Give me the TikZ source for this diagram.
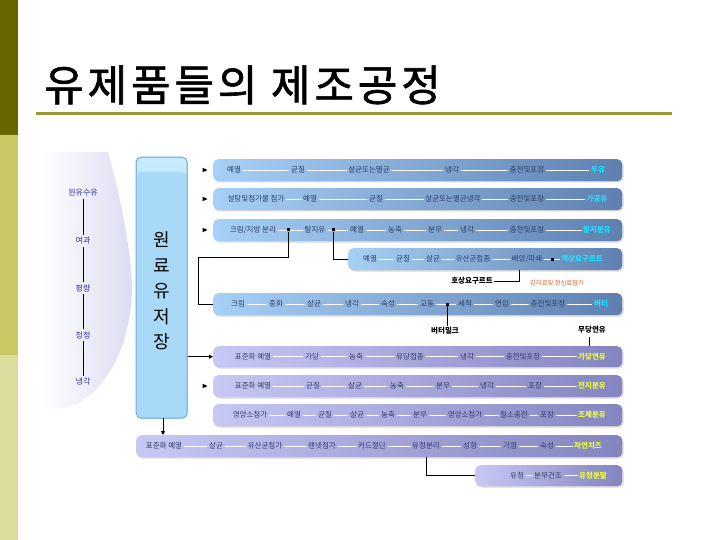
\documentclass[tikz,border=0pt]{standalone}
\usepackage{fontspec}
\setmainfont{Noto Sans CJK KR}
\newfontfamily\titlefont{Noto Sans CJK KR}[FakeBold=1.4, LetterSpace=9]
\usetikzlibrary{arrows.meta,calc}
\definecolor{oliveA}{HTML}{666600}
\definecolor{oliveB}{HTML}{C8C864}
\definecolor{oliveC}{HTML}{DCDC9C}
\definecolor{oliveL}{HTML}{999933}
\definecolor{bL}{HTML}{A6D0F6}
\definecolor{bR}{HTML}{5E80B0}
\definecolor{pL}{HTML}{C8C8F6}
\definecolor{pR}{HTML}{8484C0}
\definecolor{stor}{HTML}{A8DAF8}
\definecolor{storT}{HTML}{C8EAFC}
\definecolor{storB}{HTML}{6AAEDC}
\definecolor{navyT}{HTML}{333399}
\definecolor{txtC}{HTML}{2E3F66}
\definecolor{cyanP}{HTML}{1EE0FF}
\definecolor{yelP}{HTML}{EEFF33}
\definecolor{orng}{HTML}{E0602A}
\definecolor{lav}{HTML}{DCDCF2}
\newcommand\steps[3]{\foreach \xx/\tx [count=\ii] in {#3}{\node[stp] (#1-\ii) at (\xx,#2) {\tx};}}
\newcommand\links[2]{\foreach \ii in {1,...,#2}{\pgfmathtruncatemacro\jj{\ii+1}\draw[wl] (#1-\ii) -- (#1-\jj);}}
\newcommand\pbar[6]{%
  \fill[black!15, rounded corners=5pt] (#2+1.5,#3+1.5) rectangle (#4+1.5,#5+1.5);
  \node[#6, anchor=north west, minimum width={#4-#2}, minimum height={#5-#3}, inner sep=0pt] (#1) at (#2,#3) {};}
\newcommand\rowmark[1]{\fill (202.5,#1-2.3) -- (207.5,#1) -- (202.5,#1+2.3) -- cycle;}
\begin{document}
\begin{tikzpicture}[x=1pt,y=-1pt,
  bluebar/.style={rounded corners=5pt, left color=bL, right color=bR},
  purpbar/.style={rounded corners=5pt, left color=pL, right color=pR},
  stp/.style={font=\fontsize{7.5}{8}\selectfont, text=txtC, inner sep=1.5pt},
  prodC/.style={font=\bfseries\fontsize{7.5}{8}\selectfont, text=cyanP, inner sep=1.5pt},
  prodY/.style={font=\bfseries\fontsize{7.5}{8}\selectfont, text=yelP, inner sep=1.5pt},
  wl/.style={white, line width=0.6pt},
  dk/.style={black, line width=0.8pt},
  arr/.style={dk, -{Triangle[length=4pt,width=4pt]}},
  dotm/.style={fill=black!85!blue, minimum size=3pt, inner sep=0pt},
  lcol/.style={font=\fontsize{8}{9}\selectfont, text=navyT, inner sep=2pt},
  lbl/.style={font=\bfseries\fontsize{7.5}{8}\selectfont, inner sep=1pt}]
\useasboundingbox (0,0) rectangle (720,540);
\fill[white] (0,0) rectangle (720,540);
% left stripe
\fill[oliveA] (0,0) rectangle (18,135);
\fill[oliveB] (0,135) rectangle (18,355);
\fill[oliveC] (0,355) rectangle (18,540);
% title
\node[anchor=base west, font=\titlefont\fontsize{43}{46}\selectfont, inner sep=0pt] (title) at (44,101) {유제품들의 제조공정};
\draw[oliveL, line width=3pt] (36,114) -- (672,114);
% left faded shape
\shade[left color=white, right color=lav] (40,152) -- (108,152) .. controls (124,210) and (132,260) .. (132,292) .. controls (130,340) and (112,385) .. (75,405) .. controls (55,410) .. (40,405) -- cycle;
\node[lcol] (lc1) at (83,193) {원유수유};
\node[lcol] (lc2) at (83,241) {여과};
\node[lcol] (lc3) at (83,288) {평량};
\node[lcol] (lc4) at (83,335) {청정};
\node[lcol] (lc5) at (83,382) {냉각};
\draw[dk] (lc1) -- (lc2);
\draw[dk] (lc2) -- (lc3);
\draw[dk] (lc3) -- (lc4);
\draw[dk] (lc4) -- (lc5);
% storage
\node[draw=storB, top color=storT, bottom color=stor, shading angle=0, rounded corners=5pt, line width=0.6pt, anchor=north west, minimum width=51, minimum height=261, inner sep=0pt] (store) at (136,157) {};
\fill[stor, rounded corners=4pt] (136.5,172) rectangle (186.5,417.5);
\draw[storB, line width=0.6pt, rounded corners=5pt] (136,157) rectangle (187,418);
\node[align=center, font=\fontsize{18}{25.5}\selectfont, inner sep=0pt] (storetxt) at (162,291) {원\\료\\유\\저\\장};
% bars
\pbar{r1box}{213}{159}{622}{181}{bluebar}
\pbar{r2box}{213}{188}{622}{210}{bluebar}
\pbar{r3box}{213}{219}{622}{241}{bluebar}
\pbar{r4box}{348}{248}{622}{270}{bluebar}
\pbar{r5box}{213}{293}{622}{315}{bluebar}
\pbar{r6box}{213}{346}{622}{367}{purpbar}
\pbar{r7box}{213}{375}{622}{397}{purpbar}
\pbar{r8box}{213}{404}{622}{426}{purpbar}
\pbar{r9box}{136}{435}{622}{457}{purpbar}
\pbar{r10box}{475}{465}{622}{486}{purpbar}
% row 1
\steps{r1}{170}{234/예열, 298/균질, 369/살균또는멸균, 452/냉각, 527/충전및포장}
\node[prodC] (r1-6) at (598,170) {우유};
\links{r1}{5}
% row 2
\steps{r2}{199}{256/설탕및첨가물 첨가, 310/예열, 376/균질, 453/살균또는멸균냉각, 527/충전및포장}
\node[prodC] (r2-6) at (597,199) {가공유};
\links{r2}{5}
% row 3
\steps{r3}{230}{253/{크림/지방 분리}, 315/탈지유, 357/예열, 395/농축, 435/분무, 467/냉각, 527/충전및포장}
\node[prodC] (r3-8) at (597,230) {탈지분유};
\links{r3}{7}
\node[dotm] (d31) at (288,230) {};
\node[dotm] (d32) at (333,230) {};
% row 4
\steps{r4}{259}{370/예열, 403/균질, 433/살균, 473/유산균접종, 527/{배양/파쇄}}
\node[prodC] (r4-6) at (582,259) {액상요구르트};
\links{r4}{5}
\node[dotm] (d41) at (552,259) {};
% row 5
\steps{r5}{304}{238/크림, 276/중화, 314/살균, 352/냉각, 388/숙성, 427/교동, 465/세척, 502/연압, 548/충전및포장}
\node[prodC] (r5-10) at (601,304) {버터};
\links{r5}{9}
\node[dotm] (d51) at (447,304) {};
% row 6
\steps{r6}{356.5}{253/표준화 예열, 312/가당, 356/농축, 410/유당접종, 467/냉각, 523/충전및포장}
\node[prodY] (r6-7) at (592,356.5) {가당연유};
\links{r6}{6}
% row 7
\steps{r7}{386}{253/표준화 예열, 313/균질, 355/살균, 397/농축, 443/분무, 487/냉각, 535/포장}
\node[prodY] (r7-8) at (592,386) {전지분유};
\links{r7}{7}
% row 8
\steps{r8}{415}{250/영양소첨가, 294/예열, 325/균질, 357/살균, 388/농축, 420/분무, 465/영양소첨가, 514/질소충전, 547/포장}
\node[prodY] (r8-10) at (592,415) {조제분유};
\links{r8}{9}
% row 9
\steps{r9}{446}{164/표준화 예열, 216/살균, 265/유산균첨가, 322/렌넷첨가, 372/커드절단, 426/유청분리, 470/성형, 510/가염, 547/숙성}
\node[prodY] (r9-10) at (588,446) {자연치즈};
\links{r9}{9}
% row 10
\steps{r10}{475.5}{517/유청, 548/분무건조}
\node[prodY] (r10-3) at (593,475.5) {유청분말};
\links{r10}{2}
% markers and arrows
\rowmark{170}
\rowmark{199}
\rowmark{230}
\rowmark{386}
\draw[arr] (store.east |- r6box.west) -- (r6box.west);
\coordinate (sb) at (163,418);
\draw[arr] (sb) -- (sb |- r9box.north);
% branch connectors
\coordinate (k1) at (198,257);
\draw[dk] (d31) |- (k1) |- (r5box.west);
\draw[dk] (d32) |- (r4box.west);
% yogurt labels
\node[lbl] (hos) at (472,281) {호상요구르트};
\coordinate (hk) at (519,270);
\draw[dk] (hos.east) -- (hos.east -| hk) -- (hk);
\node[font=\fontsize{6.3}{7}\selectfont, text=orng, inner sep=1pt] (gam) at (557,283) {감미료및 향신료첨가};
% butter milk
\node[lbl] (bm) at (445,331) {버터밀크};
\draw[dk] (d51) -- (d51 |- bm.north);
% condensed milk
\node[lbl] (mu) at (592,330) {무당연유};
\coordinate (mk) at (589,337);
\draw[dk] (mk) -- (mk |- r6box.north);
% whey
\coordinate (wk) at (426,457);
\draw[dk] (wk) |- (r10box.west);
\end{tikzpicture}
\end{document}
